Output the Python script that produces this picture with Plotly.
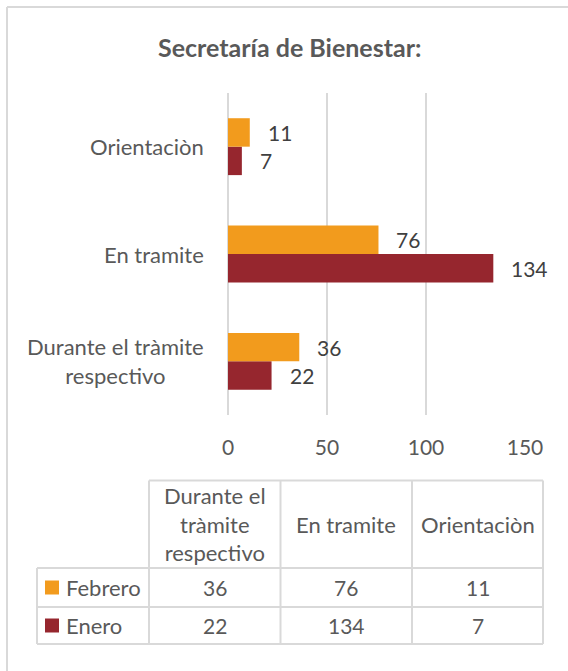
import plotly.graph_objects as go

# ---- data ----
categories = ["Durante el tràmite respectivo", "En tramite", "Orientaciòn"]
category_labels = ["Durante el tràmite<br>respectivo", "En tramite", "Orientaciòn"]
table_headers = ["Durante el<br>tràmite<br>respectivo", "En tramite", "Orientaciòn"]
series_names = ["Febrero", "Enero"]
febrero = [36, 76, 11]
enero = [22, 134, 7]
x_ticks = [0, 50, 100, 150]
title_text = "Secretaría de Bienestar:"

# ---- style ----
W, H = 568, 671
ORANGE = "#F29B1D"
RED = "#96262E"
GRID = "#D9D9D9"
TXT = "#595959"
DARK = "#404040"
FONT = "Lato"
FS = 21
FS_LAB = 22


def px(x):
    return x / W


def py(y):
    return 1 - y / H


fig = go.Figure()
fig.add_trace(go.Bar(y=categories, x=enero, name=series_names[1], orientation="h",
                     marker=dict(color=RED, line=dict(width=0)), hoverinfo="skip"))
fig.add_trace(go.Bar(y=categories, x=febrero, name=series_names[0], orientation="h",
                     marker=dict(color=ORANGE, line=dict(width=0)), hoverinfo="skip"))

annotations = []
shapes = []

# title
annotations.append(dict(text="<b>" + title_text + "</b>", x=px(289), y=py(47), xref="paper", yref="paper",
                        xanchor="center", yanchor="middle", showarrow=False,
                        font=dict(family=FONT, size=25, color=TXT)))

# category labels
for cat, lab in zip(categories, category_labels):
    annotations.append(dict(text=lab, x=px(206), y=cat, xref="paper", yref="y",
                            xanchor="right", yanchor="middle", align="center", showarrow=False,
                            font=dict(family=FONT, size=FS_LAB, color=TXT)))

# data labels
for vals, ys in ((febrero, 14.3), (enero, -14.3)):
    for cat, v in zip(categories, vals):
        annotations.append(dict(text=str(v), x=v, y=cat, xref="x", yref="y",
                                xanchor="left", yanchor="middle", xshift=16, yshift=ys,
                                showarrow=False, font=dict(family=FONT, size=FS, color=DARK)))

# table geometry
cols = [37, 149, 280.5, 412, 543]
rows = [480.5, 568, 607, 644]
LW = 2
shapes.append(dict(type="line", xref="paper", yref="paper", x0=px(cols[0]), x1=px(cols[0]),
                   y0=py(rows[1]), y1=py(rows[3]), line=dict(color=GRID, width=LW)))
for c in cols[1:]:
    shapes.append(dict(type="line", xref="paper", yref="paper", x0=px(c), x1=px(c),
                       y0=py(rows[0]), y1=py(rows[3]), line=dict(color=GRID, width=LW)))
shapes.append(dict(type="line", xref="paper", yref="paper", x0=px(cols[1]), x1=px(cols[-1]),
                   y0=py(rows[0]), y1=py(rows[0]), line=dict(color=GRID, width=LW)))
for r in rows[1:]:
    shapes.append(dict(type="line", xref="paper", yref="paper", x0=px(cols[0]), x1=px(cols[-1]),
                       y0=py(r), y1=py(r), line=dict(color=GRID, width=LW)))

# outer chart border (top and left edges; the rest lies outside the picture)
shapes.append(dict(type="line", xref="paper", yref="paper", x0=px(7), x1=1,
                   y0=py(7), y1=py(7), line=dict(color=GRID, width=2)))
shapes.append(dict(type="line", xref="paper", yref="paper", x0=px(7), x1=px(7),
                   y0=0, y1=py(7), line=dict(color=GRID, width=2)))

# header texts
for i, h in enumerate(table_headers):
    cx = (cols[i + 1] + cols[i + 2]) / 2
    annotations.append(dict(text=h, x=px(cx), y=py(524), xref="paper", yref="paper",
                            xanchor="center", yanchor="middle", align="center", showarrow=False,
                            font=dict(family=FONT, size=FS_LAB, color=TXT)))

# data rows with legend keys
for name, vals, color, r0, r1 in ((series_names[0], febrero, ORANGE, rows[1], rows[2]),
                                  (series_names[1], enero, RED, rows[2], rows[3])):
    cy = (r0 + r1) / 2
    shapes.append(dict(type="rect", xref="paper", yref="paper", x0=px(45), x1=px(59),
                       y0=py(cy - 7), y1=py(cy + 7), fillcolor=color, line=dict(width=0)))
    annotations.append(dict(text=name, x=px(64), y=py(cy), xref="paper", yref="paper",
                            xanchor="left", yanchor="middle", showarrow=False,
                            font=dict(family=FONT, size=FS_LAB, color=TXT)))
    for i, v in enumerate(vals):
        cx = (cols[i + 1] + cols[i + 2]) / 2
        annotations.append(dict(text=str(v), x=px(cx), y=py(cy), xref="paper", yref="paper",
                                xanchor="center", yanchor="middle", showarrow=False,
                                font=dict(family=FONT, size=FS, color=TXT)))

fig.update_layout(
    width=W, height=H,
    margin=dict(l=0, r=0, t=0, b=0, autoexpand=False),
    paper_bgcolor="white", plot_bgcolor="white",
    barmode="group", bargap=0.47, bargroupgap=0,
    showlegend=False,
    xaxis=dict(domain=[px(228), px(525)], range=[0, 150], tickvals=x_ticks, automargin=False,
               showgrid=True, gridcolor=GRID, gridwidth=2, zeroline=True, zerolinecolor=GRID,
               zerolinewidth=2, showline=False, ticks="", ticklabelstandoff=18,
               tickfont=dict(family=FONT, size=FS, color=TXT), fixedrange=True),
    yaxis=dict(domain=[py(415), py(93)], categoryorder="array", categoryarray=categories,
               automargin=False, showticklabels=False, showgrid=False, zeroline=False,
               showline=False, ticks="", fixedrange=True),
    annotations=annotations,
    shapes=shapes,
    font=dict(family=FONT),
)

fig.write_html("out.html", config={"displayModeBar": False},
               post_script="document.body.style.margin='0px';")
